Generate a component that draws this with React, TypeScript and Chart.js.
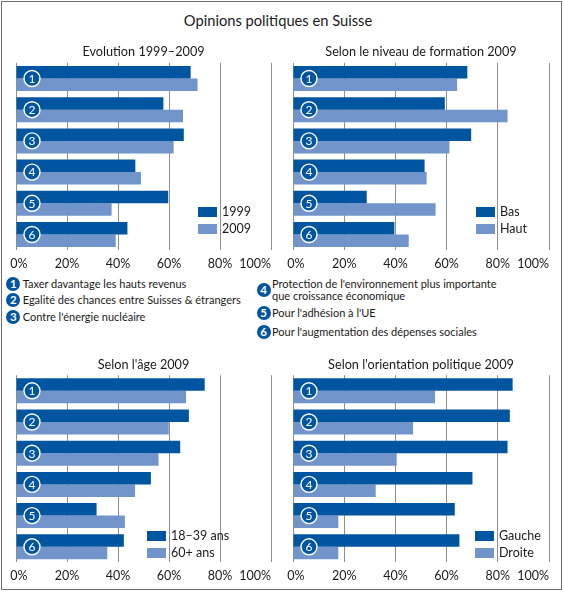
import React, { useEffect, useRef } from 'react';
import { Chart, registerables } from 'chart.js';

Chart.register(...registerables);

// ---- data ----
const categories = ['1', '2', '3', '4', '5', '6'];
const tickLabels = ['0%', '20%', '40%', '60%', '80%', '100%'];

const evoLabels = ['1999', '2009'];
const evo1999 = [68.5, 57.8, 65.8, 46.8, 59.7, 43.7];
const evo2009 = [71.2, 65.5, 61.8, 49.0, 37.5, 39.1];

const formLabels = ['Bas', 'Haut'];
const formBas = [68.1, 59.3, 69.6, 51.4, 28.8, 39.6];
const formHaut = [64.1, 83.8, 61.1, 52.2, 55.7, 45.2];

const ageLabels = ['18–39 ans', '60+ ans'];
const age1839 = [74.0, 67.8, 64.4, 52.9, 31.6, 42.3];
const age60 = [66.7, 59.9, 55.9, 46.7, 42.7, 35.8];

const polLabels = ['Gauche', 'Droite'];
const polGauche = [85.8, 84.7, 83.8, 70.1, 63.2, 65.0];
const polDroite = [55.5, 46.9, 40.5, 32.3, 17.7, 17.7];

const mainTitle = 'Opinions politiques en Suisse';
const panelTitles = [
  'Evolution 1999–2009',
  'Selon le niveau de formation 2009',
  "Selon l'âge 2009",
  "Selon l'orientation politique 2009",
];
const notesLeft = [
  'Taxer davantage les hauts revenus',
  'Egalité des chances entre Suisses & étrangers',
  "Contre l'énergie nucléaire",
];
const notesRight = [
  "Protection de l'environnement plus importante\nque croissance économique",
  "Pour l'adhésion à l'UE",
  "Pour l'augmentation des dépenses sociales",
];

// ---- styles ----
const DARK = '#0055a0';
const LIGHT = '#7195cb';
const GRID = '#8f8f8f';
const TEXT = '#1a1a1a';
const FONT = 'Lato, "Open Sans", sans-serif';

type PanelDef = {
  title: string;
  labels: string[];
  a: number[];
  b: number[];
  left: number;
  top: number;
  width: number;
  height: number;
  x0: number; // page x of 0%
  x100: number; // page x of 100%
  areaTop: number; // page y of chart area top
  areaBottom: number;
  titleY: number;
  legendX: number;
  legendY: number;
};

const panels: PanelDef[] = [
  { title: panelTitles[0], labels: evoLabels, a: evo1999, b: evo2009, left: 0, top: 40, width: 282, height: 235, x0: 16, x100: 271, areaTop: 62.9, areaBottom: 250.1, titleY: 51, legendX: 198, legendY: 207 },
  { title: panelTitles[1], labels: formLabels, a: formBas, b: formHaut, left: 282, top: 40, width: 282, height: 235, x0: 293, x100: 549, areaTop: 62.9, areaBottom: 250.1, titleY: 51, legendX: 476, legendY: 207 },
  { title: panelTitles[2], labels: ageLabels, a: age1839, b: age60, left: 0, top: 350, width: 282, height: 235, x0: 16, x100: 271, areaTop: 375.2, areaBottom: 562.4, titleY: 364, legendX: 147, legendY: 531 },
  { title: panelTitles[3], labels: polLabels, a: polGauche, b: polDroite, left: 282, top: 350, width: 282, height: 235, x0: 293, x100: 549, areaTop: 375.2, areaBottom: 562.4, titleY: 364, legendX: 475, legendY: 531 },
];

const overlayPlugin = {
  id: 'overlay',
  afterDatasetsDraw(chart: any) {
    const { ctx } = chart;
    const x = chart.scales.x;
    const y = chart.scales.y;
    ctx.save();
    categories.forEach((c, i) => {
      const cy = y.getPixelForValue(i);
      const cx = x.getPixelForValue(0) + 16;
      ctx.beginPath();
      ctx.arc(cx, cy, 8, 0, Math.PI * 2);
      ctx.fillStyle = DARK;
      ctx.fill();
      ctx.lineWidth = 1.4;
      ctx.strokeStyle = '#ffffff';
      ctx.stroke();
      ctx.fillStyle = '#ffffff';
      ctx.font = `12px ${FONT}`;
      ctx.textAlign = 'center';
      ctx.textBaseline = 'middle';
      ctx.fillText(c, cx, cy + 0.5);
    });
    ctx.fillStyle = TEXT;
    ctx.font = `12.5px ${FONT}`;
    ctx.textBaseline = 'middle';
    const n = x.ticks.length;
    x.ticks.forEach((t: any, i: number) => {
      const px = x.getPixelForTick(i);
      const label = tickLabels[i] ?? '';
      if (i === n - 1) {
        ctx.textAlign = 'right';
        ctx.fillText(label, px, chart.chartArea.bottom + 13.5);
      } else {
        ctx.textAlign = 'center';
        ctx.fillText(label, px + (i === 0 ? 3 : 0), chart.chartArea.bottom + 13.5);
      }
    });
    ctx.restore();
  },
};

function Panel({ p }: { p: PanelDef }) {
  const ref = useRef<HTMLCanvasElement>(null);
  useEffect(() => {
    if (!ref.current) return;
    const chart = new Chart(ref.current, {
      type: 'bar',
      data: {
        labels: categories,
        datasets: [
          { label: p.labels[0], data: p.a, backgroundColor: DARK, categoryPercentage: 0.8, barPercentage: 1 },
          { label: p.labels[1], data: p.b, backgroundColor: LIGHT, categoryPercentage: 0.8, barPercentage: 1 },
        ],
      },
      options: {
        indexAxis: 'y',
        animation: false,
        responsive: false,
        maintainAspectRatio: false,
        devicePixelRatio: 1,
        layout: {
          padding: {
            left: p.x0 - p.left,
            right: p.left + p.width - p.x100,
            top: p.areaTop - p.top,
            bottom: p.top + p.height - p.areaBottom,
          },
        },
        plugins: { legend: { display: false }, tooltip: { enabled: false }, title: { display: false } },
        scales: {
          x: {
            type: 'linear',
            min: 0,
            max: 100,
            ticks: { stepSize: 20, display: false },
            grid: { color: GRID, lineWidth: 1, drawTicks: false },
            border: { display: false },
          },
          y: { type: 'category', display: false, offset: true },
        },
      },
      plugins: [overlayPlugin],
    } as any);
    return () => chart.destroy();
  }, []);
  return (
    <>
      <canvas
        ref={ref}
        width={p.width}
        height={p.height}
        style={{ position: 'absolute', left: p.left, top: p.top, width: p.width, height: p.height }}
      />
      <div
        style={{
          position: 'absolute', left: (p.x0 + p.x100) / 2 - 150, width: 300, top: p.titleY - 9,
          lineHeight: '18px', fontSize: 12.7, textAlign: 'center', whiteSpace: 'nowrap', color: TEXT,
        }}
      >
        {p.title}
      </div>
      {p.labels.map((l, i) => (
        <React.Fragment key={l}>
          <div
            style={{
              position: 'absolute', left: p.legendX, top: p.legendY + i * 16.5, width: 19, height: 10,
              background: i === 0 ? DARK : LIGHT,
            }}
          />
          <div
            style={{
              position: 'absolute', left: p.legendX + 24, top: p.legendY + i * 16.5 + 5 - 9, lineHeight: '18px',
              fontSize: 12.5, whiteSpace: 'nowrap', color: TEXT,
            }}
          >
            {l}
          </div>
        </React.Fragment>
      ))}
    </>
  );
}

function NoteCircle({ n, x, y }: { n: number; x: number; y: number }) {
  return (
    <div
      style={{
        position: 'absolute', left: x - 7, top: y - 7, width: 14, height: 14, borderRadius: 7, background: DARK,
        color: '#fff', fontSize: 11.5, lineHeight: '14px', textAlign: 'center', fontWeight: 700,
      }}
    >
      {n}
    </div>
  );
}

export default function App() {
  const leftYs = [283.7, 300, 316.7];
  const rightYs = [290, 313.3, 331.7];
  return (
    <div
      style={{
        position: 'absolute', left: 0, top: 0, width: 564, height: 593, background: '#fff', overflow: 'hidden',
        fontFamily: FONT, color: TEXT,
      }}
    >
      <div
        style={{
          position: 'absolute', left: 1, top: 1, width: 559, height: 587, border: '1px solid #6e6e6e',
        }}
      />
      <div
        style={{
          position: 'absolute', left: 0, width: 556, top: 10, lineHeight: '20px', fontSize: 14.7,
          textAlign: 'center', whiteSpace: 'nowrap',
        }}
      >
        {mainTitle}
      </div>
      {panels.map((p, i) => (
        <Panel key={i} p={p} />
      ))}
      {notesLeft.map((t, i) => (
        <React.Fragment key={t}>
          <NoteCircle n={i + 1} x={13.3} y={leftYs[i]} />
          <div
            style={{
              position: 'absolute', left: 22.7, top: leftYs[i] - 8, lineHeight: '16px', fontSize: 11,
              whiteSpace: 'nowrap',
            }}
          >
            {t}
          </div>
        </React.Fragment>
      ))}
      {notesRight.map((t, i) => (
        <React.Fragment key={t}>
          <NoteCircle n={i + 4} x={263.7} y={rightYs[i]} />
          <div
            style={{
              position: 'absolute', left: 272, top: rightYs[i] - (t.includes('\n') ? 12.5 : 8),
              lineHeight: t.includes('\n') ? '12.5px' : '16px', fontSize: 11, whiteSpace: 'pre',
            }}
          >
            {t}
          </div>
        </React.Fragment>
      ))}
    </div>
  );
}
